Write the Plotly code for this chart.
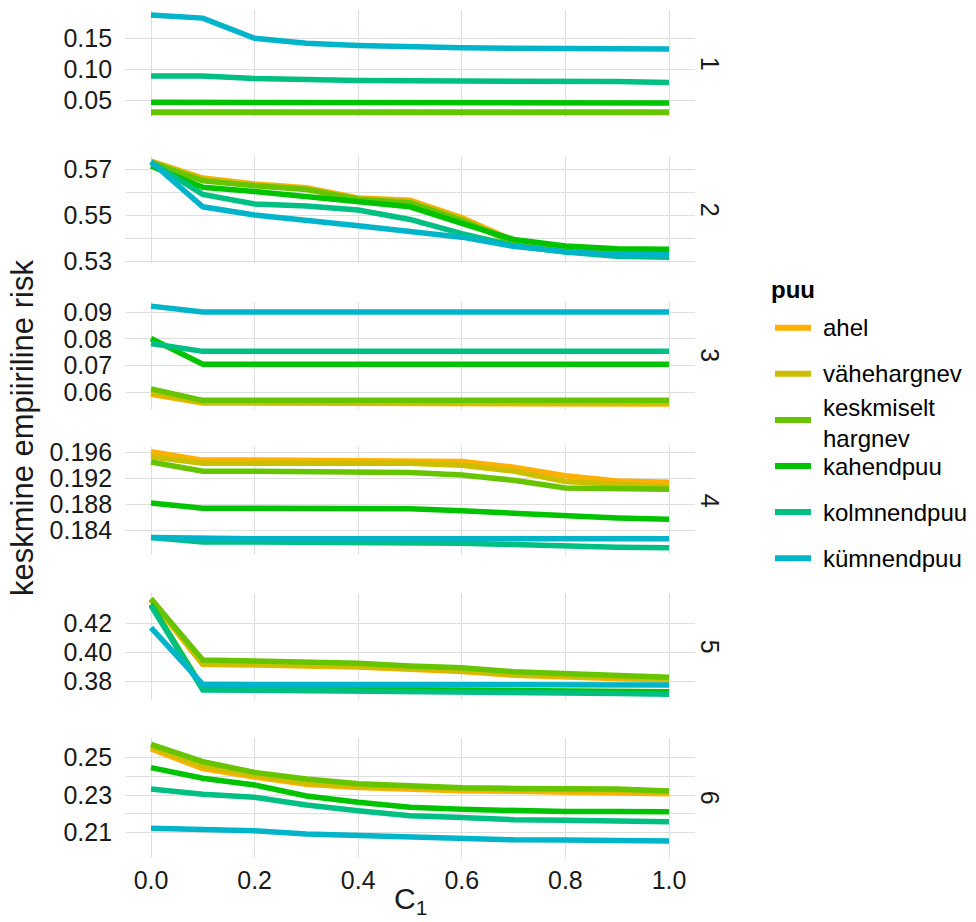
import plotly.graph_objects as go

# ---------------- data ----------------
c1 = [0.0, 0.1, 0.2, 0.3, 0.4, 0.5, 0.6, 0.7, 0.8, 0.9, 1.0]
x_tick_vals = [0.0, 0.2, 0.4, 0.6, 0.8, 1.0]
x_tick_text = ["0.0", "0.2", "0.4", "0.6", "0.8", "1.0"]

puu = ["ahel", "vähehargnev", "keskmiselt hargnev", "kahendpuu", "kolmnendpuu", "kümnendpuu"]
puu_labels = ["ahel", "vähehargnev", "keskmiselt<br>hargnev", "kahendpuu", "kolmnendpuu", "kümnendpuu"]
colors = ["#FFB000", "#CCBE00", "#66C400", "#00C300", "#00BF82", "#00B5CA"]
facets = ["1", "2", "3", "4", "5", "6"]

# panel 1
p1_ahel = [0.0303, 0.0303, 0.0303, 0.0303, 0.0303, 0.0303, 0.0303, 0.0303, 0.0303, 0.0303, 0.0303]
p1_vahe = [0.0306, 0.0306, 0.0306, 0.0306, 0.0306, 0.0306, 0.0306, 0.0306, 0.0306, 0.0306, 0.0306]
p1_kesk = [0.0296, 0.0296, 0.0296, 0.0296, 0.0296, 0.0296, 0.0296, 0.0296, 0.0296, 0.0296, 0.0296]
p1_kah = [0.0462, 0.0462, 0.0460, 0.0459, 0.0458, 0.0458, 0.0457, 0.0457, 0.0456, 0.0454, 0.0451]
p1_kolm = [0.0887, 0.0887, 0.0848, 0.0827, 0.0815, 0.0810, 0.0810, 0.0810, 0.0808, 0.0799, 0.0785]
p1_kymn = [0.1878, 0.1827, 0.1500, 0.1419, 0.1383, 0.1356, 0.1345, 0.1340, 0.1335, 0.1330, 0.1327]

# panel 2
p2_ahel = [0.5735, 0.5662, 0.5636, 0.5620, 0.5575, 0.5566, 0.5490, 0.5390, 0.5362, 0.5350, 0.5348]
p2_vahe = [0.5733, 0.5657, 0.5632, 0.5615, 0.5572, 0.5560, 0.5484, 0.5386, 0.5358, 0.5347, 0.5345]
p2_kesk = [0.5730, 0.5650, 0.5628, 0.5612, 0.5570, 0.5555, 0.5478, 0.5382, 0.5356, 0.5346, 0.5344]
p2_kah = [0.5714, 0.5622, 0.5603, 0.5580, 0.5560, 0.5537, 0.5465, 0.5395, 0.5367, 0.5355, 0.5352]
p2_kolm = [0.5730, 0.5591, 0.5549, 0.5540, 0.5523, 0.5482, 0.5420, 0.5368, 0.5340, 0.5322, 0.5318]
p2_kymn = [0.5733, 0.5537, 0.5501, 0.5475, 0.5455, 0.5430, 0.5405, 0.5365, 0.5342, 0.5330, 0.5328]

# panel 3
p3_ahel = [0.0593, 0.0560, 0.0560, 0.0560, 0.0560, 0.0560, 0.0560, 0.0560, 0.0560, 0.0559, 0.0556]
p3_vahe = [0.0600, 0.0562, 0.0562, 0.0562, 0.0562, 0.0562, 0.0562, 0.0562, 0.0562, 0.0562, 0.0561]
p3_kesk = [0.0613, 0.0570, 0.0570, 0.0570, 0.0570, 0.0570, 0.0570, 0.0570, 0.0570, 0.0570, 0.0570]
p3_kah = [0.0801, 0.0705, 0.0705, 0.0705, 0.0705, 0.0705, 0.0705, 0.0705, 0.0705, 0.0705, 0.0705]
p3_kolm = [0.0782, 0.0753, 0.0753, 0.0753, 0.0753, 0.0753, 0.0753, 0.0753, 0.0753, 0.0753, 0.0753]
p3_kymn = [0.0922, 0.0900, 0.0900, 0.0900, 0.0900, 0.0900, 0.0900, 0.0900, 0.0900, 0.0900, 0.0900]

# panel 4
p4_ahel = [0.1961, 0.1948, 0.1948, 0.1948, 0.1948, 0.1948, 0.1946, 0.1937, 0.1924, 0.1916, 0.1914]
p4_vahe = [0.1953, 0.1943, 0.1943, 0.1943, 0.1943, 0.1943, 0.1940, 0.1931, 0.1915, 0.1910, 0.1907]
p4_kesk = [0.1945, 0.1931, 0.1931, 0.1930, 0.1930, 0.1929, 0.1925, 0.1917, 0.1905, 0.1903, 0.1903]
p4_kah = [0.1882, 0.1874, 0.1874, 0.1874, 0.1874, 0.1873, 0.1870, 0.1866, 0.1862, 0.1859, 0.1857]
p4_kolm = [0.1829, 0.1822, 0.1822, 0.1822, 0.1822, 0.1821, 0.1820, 0.1818, 0.1815, 0.1814, 0.1813]
p4_kymn = [0.1829, 0.1827, 0.1827, 0.1827, 0.1827, 0.1827, 0.1827, 0.1827, 0.1827, 0.1827, 0.1827]

# panel 5
p5_ahel = [0.4360, 0.3918, 0.3915, 0.3910, 0.3900, 0.3885, 0.3870, 0.3845, 0.3832, 0.3820, 0.3810]
p5_vahe = [0.4370, 0.3921, 0.3920, 0.3915, 0.3905, 0.3890, 0.3875, 0.3850, 0.3840, 0.3830, 0.3820]
p5_kesk = [0.4366, 0.3949, 0.3942, 0.3935, 0.3926, 0.3908, 0.3896, 0.3868, 0.3855, 0.3841, 0.3830]
p5_kah = [0.4330, 0.3755, 0.3754, 0.3752, 0.3751, 0.3750, 0.3748, 0.3744, 0.3740, 0.3736, 0.3732]
p5_kolm = [0.4321, 0.3743, 0.3742, 0.3740, 0.3738, 0.3736, 0.3733, 0.3730, 0.3725, 0.3719, 0.3714]
p5_kymn = [0.4170, 0.3782, 0.3780, 0.3780, 0.3780, 0.3780, 0.3780, 0.3779, 0.3779, 0.3778, 0.3778]

# panel 6
p6_ahel = [0.2544, 0.2440, 0.2395, 0.2357, 0.2340, 0.2329, 0.2323, 0.2320, 0.2318, 0.2316, 0.2307]
p6_vahe = [0.2556, 0.2455, 0.2406, 0.2365, 0.2348, 0.2339, 0.2334, 0.2329, 0.2329, 0.2326, 0.2315]
p6_kesk = [0.2569, 0.2477, 0.2420, 0.2385, 0.2360, 0.2348, 0.2339, 0.2335, 0.2335, 0.2332, 0.2321]
p6_kah = [0.2445, 0.2389, 0.2353, 0.2295, 0.2261, 0.2235, 0.2224, 0.2216, 0.2212, 0.2212, 0.2211]
p6_kolm = [0.2332, 0.2304, 0.2288, 0.2247, 0.2217, 0.2190, 0.2180, 0.2169, 0.2166, 0.2162, 0.2158]
p6_kymn = [0.2123, 0.2115, 0.2110, 0.2093, 0.2085, 0.2071, 0.2066, 0.2062, 0.2061, 0.2059, 0.2056]

panel_series = [
    [p1_ahel, p1_vahe, p1_kesk, p1_kah, p1_kolm, p1_kymn],
    [p2_ahel, p2_vahe, p2_kesk, p2_kah, p2_kolm, p2_kymn],
    [p3_ahel, p3_vahe, p3_kesk, p3_kah, p3_kolm, p3_kymn],
    [p4_ahel, p4_vahe, p4_kesk, p4_kah, p4_kolm, p4_kymn],
    [p5_ahel, p5_vahe, p5_kesk, p5_kah, p5_kolm, p5_kymn],
    [p6_ahel, p6_vahe, p6_kesk, p6_kah, p6_kolm, p6_kymn],
]

# y tick values / labels per panel (and unlabeled grid lines)
y_tick_vals = [
    [0.05, 0.10, 0.15],
    [0.53, 0.55, 0.57],
    [0.06, 0.07, 0.08, 0.09],
    [0.184, 0.188, 0.192, 0.196],
    [0.38, 0.40, 0.42],
    [0.21, 0.23, 0.25],
]
y_tick_text = [
    ["0.05", "0.10", "0.15"],
    ["0.53", "0.55", "0.57"],
    ["0.06", "0.07", "0.08", "0.09"],
    ["0.184", "0.188", "0.192", "0.196"],
    ["0.38", "0.40", "0.42"],
    ["0.21", "0.23", "0.25"],
]
y_extra_grid = [[], [0.54, 0.56], [], [], [], [0.22, 0.24]]
y_ranges = [
    [0.02196, 0.19587],
    [0.52913, 0.57578],
    [0.05376, 0.09385],
    [0.18020, 0.19686],
    [0.36747, 0.44055],
    [0.19695, 0.26008],
]

# ---------------- layout geometry (pixels) ----------------
W, H = 976, 922
panel_px = [(10, 117.3), (156, 263.3), (301.7, 409), (446.7, 555), (593.3, 700), (738.3, 857.3)]
x_left_px, x_right_px = 125.1, 694.9
FONT = "Liberation Sans, Arial, sans-serif"
TXT = "#1a1a1a"
GRID = "#DEDEDE"


def px(xp):
    return xp / W


def py(yp):
    return 1 - yp / H


fig = go.Figure()
layout = dict(
    width=W, height=H,
    margin=dict(l=0, r=0, t=0, b=0, pad=0, autoexpand=False),
    paper_bgcolor="white", plot_bgcolor="white",
    showlegend=False,
    font=dict(family=FONT, color=TXT),
)

for i in range(6):
    n = i + 1
    xa = "x" if n == 1 else f"x{n}"
    ya = "y" if n == 1 else f"y{n}"
    top, bot = panel_px[i]
    layout["xaxis" if n == 1 else f"xaxis{n}"] = dict(
        domain=[px(x_left_px), px(x_right_px)], anchor=ya,
        range=[-0.05, 1.05], tickvals=x_tick_vals, ticktext=x_tick_text,
        showticklabels=(n == 6), showgrid=True, gridcolor=GRID, gridwidth=1.3,
        zeroline=False, showline=False, ticks="", automargin=False,
        tickfont=dict(size=25, color=TXT, family=FONT), ticklabelstandoff=6,
        **({} if n == 1 else {"matches": "x"}),
    )
    yax = dict(
        domain=[py(bot), py(top)], anchor=xa,
        range=y_ranges[i], tickvals=y_tick_vals[i], ticktext=y_tick_text[i],
        showgrid=True, gridcolor=GRID, gridwidth=1.3,
        zeroline=False, showline=False, ticks="", automargin=False,
        tickfont=dict(size=25, color=TXT, family=FONT), ticklabelstandoff=12,
    )
    if y_extra_grid[i]:
        yax["minor"] = dict(tickvals=y_extra_grid[i], showgrid=True,
                            gridcolor=GRID, gridwidth=1.3, ticks="")
    layout["yaxis" if n == 1 else f"yaxis{n}"] = yax
    for name, col, vals in zip(puu, colors, panel_series[i]):
        fig.add_trace(go.Scatter(
            x=c1, y=vals, mode="lines", name=name,
            line=dict(color=col, width=5.5),
            xaxis=xa, yaxis=ya, showlegend=False,
        ))

annotations = []
shapes = []
# facet strip labels
for i, lab in enumerate(facets):
    top, bot = panel_px[i]
    annotations.append(dict(
        x=px(710), y=py((top + bot) / 2), xref="paper", yref="paper",
        text=lab, showarrow=False, textangle=90,
        xanchor="center", yanchor="middle",
        font=dict(size=25, color=TXT, family=FONT),
    ))
# axis titles
annotations.append(dict(
    x=px(22), y=py(428), xref="paper", yref="paper",
    text="keskmine empiiriline risk", showarrow=False, textangle=-90,
    xanchor="center", yanchor="middle",
    font=dict(size=31, color=TXT, family=FONT),
))
annotations.append(dict(
    x=px(410), y=py(900), xref="paper", yref="paper",
    text="C<sub>1</sub>", showarrow=False,
    xanchor="center", yanchor="middle",
    font=dict(size=30, color=TXT, family=FONT),
))
# legend (drawn manually to follow ggplot layout)
annotations.append(dict(
    x=px(769), y=py(289), xref="paper", yref="paper",
    text="<b>puu</b>", showarrow=False, xanchor="left", yanchor="middle",
    font=dict(size=24, color="#000000", family=FONT),
))
leg_top = 327.7
leg_step = 46.1
for k, (lab, col) in enumerate(zip(puu_labels, colors)):
    yk = leg_top + k * leg_step
    shapes.append(dict(
        type="line", xref="paper", yref="paper",
        x0=px(775), x1=px(811), y0=py(yk), y1=py(yk),
        line=dict(color=col, width=6),
    ))
    annotations.append(dict(
        x=px(821), y=py(yk + (3 if k == 2 else 0)), xref="paper", yref="paper",
        text=lab, showarrow=False, xanchor="left", yanchor="middle", align="left",
        font=dict(size=24, color="#000000", family=FONT),
    ))

layout["annotations"] = annotations
layout["shapes"] = shapes
fig.update_layout(**layout)
fig.write_html("out.html")
